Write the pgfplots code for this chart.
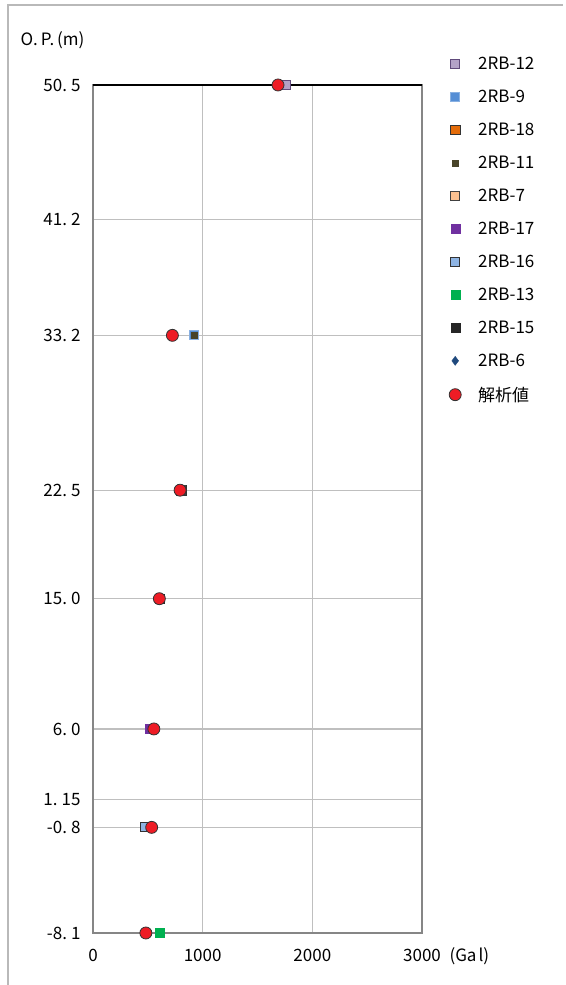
\documentclass[border=0pt]{standalone}
\usepackage{pgfplots}
\pgfplotsset{compat=1.18}
\usepackage{fontspec}
\setmainfont{Noto Sans CJK JP}
\definecolor{gridc}{HTML}{BFBFBF}
\definecolor{axc}{HTML}{868686}
\definecolor{cA}{HTML}{B3A2C7}
\definecolor{cAe}{HTML}{604A7B}
\definecolor{cB}{HTML}{558ED5}
\definecolor{cC}{HTML}{E46C0A}
\definecolor{cD}{HTML}{494429}
\definecolor{cE}{HTML}{FAC090}
\definecolor{cF}{HTML}{7030A0}
\definecolor{cG}{HTML}{8EB4E3}
\definecolor{cH}{HTML}{00B050}
\definecolor{cI}{HTML}{262626}
\definecolor{cJ}{HTML}{1F497D}
\definecolor{cR}{HTML}{EE1C25}
\begin{document}
\begin{tikzpicture}[x=1pt,y=1pt]
\useasboundingbox (0,0) rectangle (565,985);
\draw[gray!55, line width=1.2pt] (8,0) -- (8,980) -- (563,980);
\node[anchor=west, font=\fontsize{17}{20}\selectfont] at (17,945) {O.\hspace{3pt}P.\hspace{3pt}(m)};
\node[anchor=west, font=\fontsize{17}{20}\selectfont] at (446,29) {(Ga\hspace{2pt}l)};
\begin{axis}[
  at={(93pt,52pt)}, anchor=south west,
  scale only axis, width=329pt, height=848pt,
  xmin=0, xmax=3000, ymin=-8.1, ymax=50.5,
  xtick={0,1000,2000,3000},
  xticklabels={0,1000,2000,3000},
  ytick={-8.1,-0.8,1.15,6.0,15.0,22.5,33.2,41.2,50.5},
  yticklabels={{-8.\hspace{4pt}1},{-0.\hspace{4pt}8},{1.\hspace{4pt}15},{6.\hspace{4pt}0},{15.\hspace{4pt}0},{22.\hspace{4pt}5},{33.\hspace{4pt}2},{41.\hspace{4pt}2},{50.\hspace{4pt}5}},
  major tick length=0pt,
  grid=major,
  major grid style={gridc, line width=1.2pt},
  axis line style={axc, line width=1.5pt},
  ticklabel style={font=\fontsize{17}{20}\selectfont},
  /pgf/number format/assume math mode=true,
  xticklabel style={yshift=-13pt},
  yticklabel style={xshift=-9pt},
  clip=false,
  legend cell align=left,
  legend style={draw=none, fill=none, at={(1,1)}, anchor=north west, xshift=25pt, yshift=32pt,
    font=\fontsize{17}{20}\selectfont, row sep=15pt, inner sep=2pt},
  legend image code/.code={\path[draw=none,fill=none] (0pt,0pt) rectangle (26pt,0pt); \draw[#1] plot coordinates {(5pt,0pt)};},
]
\addplot[only marks, mark=square*, mark size=4.5pt, mark options={fill=cA, draw=cAe, line width=0.8pt}] coordinates {(1755,50.5)};
\addlegendentry{2RB-12}
\addplot[only marks, mark=square*, mark size=4.5pt, mark options={fill=cB, draw=cB!70!white, line width=0.8pt}] coordinates {(921,33.2)};
\addlegendentry{2RB-9}
\addplot[only marks, mark=square*, mark size=4.8pt, mark options={fill=cC, draw=black!80, line width=0.8pt}] coordinates {(807,22.5)};
\addlegendentry{2RB-18}
\addplot[only marks, mark=square*, mark size=3pt, mark options={fill=cD, draw=cD}] coordinates {(921,33.2)};
\addlegendentry{2RB-11}
\addplot[only marks, mark=square*, mark size=4.5pt, mark options={fill=cE, draw=black!75, line width=0.8pt}] coordinates {(800,22.5)};
\addlegendentry{2RB-7}
\addplot[only marks, mark=square*, mark size=4.5pt, mark options={fill=cF, draw=cF}] coordinates {(520,6.0)};
\addlegendentry{2RB-17}
\addplot[only marks, mark=square*, mark size=4.5pt, mark options={fill=cG, draw=black!80, line width=0.8pt}] coordinates {(470,-0.8)};
\addlegendentry{2RB-16}
\addplot[only marks, mark=square*, mark size=4.5pt, mark options={fill=cH, draw=cH}] coordinates {(610,-8.1)};
\addlegendentry{2RB-13}
\addplot[only marks, mark=square*, mark size=4.5pt, mark options={fill=cI, draw=cI}] coordinates {(605,15.0)};
\addlegendentry{2RB-15}
\addplot[only marks, mark=diamond*, mark size=4.5pt, mark options={fill=cJ, draw=cJ}] coordinates {(480,-8.1)};
\addlegendentry{2RB-6}
\addplot[only marks, mark=*, mark size=6pt, mark options={fill=cR, draw=black!80, line width=0.8pt}] coordinates {(1687,50.5) (724,33.2) (794,22.5) (605,15.0) (555,6.0) (535,-0.8) (482,-8.1)};
\addlegendentry{解析値}
\draw[black, line width=2pt] (rel axis cs:0,1) -- (rel axis cs:1,1);
\end{axis}
\end{tikzpicture}
\end{document}
